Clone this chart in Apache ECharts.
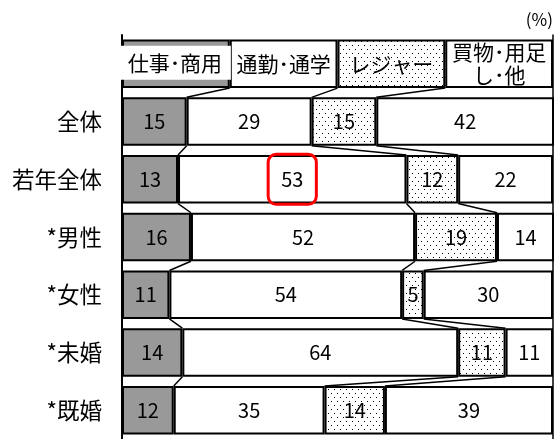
<!DOCTYPE html>
<html>
<head>
<meta charset="utf-8">
<script src="https://cdn.jsdelivr.net/npm/echarts@6/dist/echarts.min.js"></script>
<style>
  html, body { margin: 0; padding: 0; background: #fff; }
  #chart { width: 555px; height: 439px; }
</style>
</head>
<body>
<div id="chart"></div>
<script>
// 行ラベル（先頭は凡例代わりの見出し行）
const categories = ['', '全体', '若年全体', '*男性', '*女性', '*未婚', '*既婚'];
const headerLabels = ['仕事･商用', '通勤･通学', 'レジャー', '買物･用足\nし･他'];
const headerShare = [25, 25, 25, 25];

// 目的別の構成比（%）
const work = [15, 13, 16, 11, 14, 12];
const commute = [29, 53, 52, 54, 64, 35];
const leisure = [15, 12, 19, 5, 11, 14];
const shopping = [42, 22, 14, 30, 11, 39];

const seriesNames = ['仕事・商用', '通勤・通学', 'レジャー', '買物・用足し・他'];
const seriesValues = [work, commute, leisure, shopping];

// 赤枠で強調する値（若年全体の通勤・通学）
const highlight = { row: 1, series: 1 };

// ドット柄
const dotCanvas = document.createElement('canvas');
dotCanvas.width = 6;
dotCanvas.height = 8;
const dctx = dotCanvas.getContext('2d');
dctx.fillStyle = '#fff';
dctx.fillRect(0, 0, 6, 8);
dctx.fillStyle = '#000';
dctx.fillRect(1, 1, 1, 1);
dctx.fillRect(4, 5, 1, 1);

const fills = ['#999999', '#ffffff', { image: dotCanvas, repeat: 'repeat' }, '#ffffff'];
const font = '"Noto Sans CJK JP", sans-serif';
const barRatio = 0.84;

// 各行の累積値（見出し行を含む）
const rowsOf = (r) => r === 0 ? headerShare : seriesValues.map(s => s[r - 1]);
const cumulative = (r) => {
  const vals = rowsOf(r);
  const out = [0];
  vals.forEach(v => out.push(out[out.length - 1] + v));
  return out;
};

const barSeries = seriesNames.map((name, si) => ({
  name: name,
  type: 'bar',
  stack: 'total',
  barCategoryGap: '16%',
  itemStyle: { color: fills[si], borderColor: '#000', borderWidth: 2 },
  label: {
    show: true,
    position: 'inside',
    color: '#000',
    fontSize: 20,
    fontFamily: font,
    lineHeight: 24
  },
  data: [headerShare[si]].concat(seriesValues[si]).map((v, idx) => {
    const item = { value: v };
    if (idx === 0) {
      item.label = { formatter: headerLabels[si], fontSize: 21, lineHeight: 23 };
      if (si === 0) {
        item.label.backgroundColor = '#fff';
        item.label.width = 112;
        item.label.align = 'center';
        item.label.lineHeight = 24;
        item.label.padding = [5, 0, 5, 0];
        item.label.offset = [-1, -1];
      }
    } else if (idx - 1 === highlight.row && si === highlight.series) {
      item.label = {
        borderColor: '#ff0000',
        borderWidth: 3,
        borderRadius: 8,
        padding: [13, 13]
      };
    }
    return item;
  })
}));

// 区分線（隣り合う行の境界を結ぶ線）
const connectorSeries = {
  type: 'custom',
  z: 5,
  silent: true,
  data: categories.slice(0, -1).map((c, i) => [0, i]),
  renderItem: function (params, api) {
    const r = api.value(1);
    const half = api.size([0, 1])[1] * barRatio / 2;
    const a = cumulative(r);
    const b = cumulative(r + 1);
    const children = [1, 2, 3].map(k => {
      const p1 = api.coord([Math.min(a[k], 100), r]);
      const p2 = api.coord([Math.min(b[k], 100), r + 1]);
      return {
        type: 'line',
        shape: { x1: p1[0], y1: p1[1] + half, x2: p2[0], y2: p2[1] - half },
        style: { stroke: '#000', lineWidth: 1.5 }
      };
    });
    return { type: 'group', children: children };
  }
};

const chart = echarts.init(document.getElementById('chart'));
chart.setOption({
  animation: false,
  grid: { left: 122, right: 2, top: 35, height: 408 },
  graphic: [{
    type: 'text',
    right: 2,
    top: 11,
    style: { text: '(%)', fontSize: 17, fontFamily: font, fill: '#000' }
  }],
  xAxis: { type: 'value', min: 0, max: 100, show: false },
  yAxis: [{
    type: 'category',
    inverse: true,
    data: categories,
    axisTick: { show: false },
    axisLine: { lineStyle: { color: '#000', width: 2 } },
    axisLabel: { color: '#000', fontSize: 22.5, fontFamily: font, margin: 20 }
  }, {
    type: 'category',
    inverse: true,
    position: 'right',
    data: categories,
    axisTick: { show: false },
    axisLabel: { show: false },
    axisLine: { lineStyle: { color: '#000', width: 1.5 } }
  }],
  series: barSeries.concat([connectorSeries])
});
</script>
</body>
</html>
